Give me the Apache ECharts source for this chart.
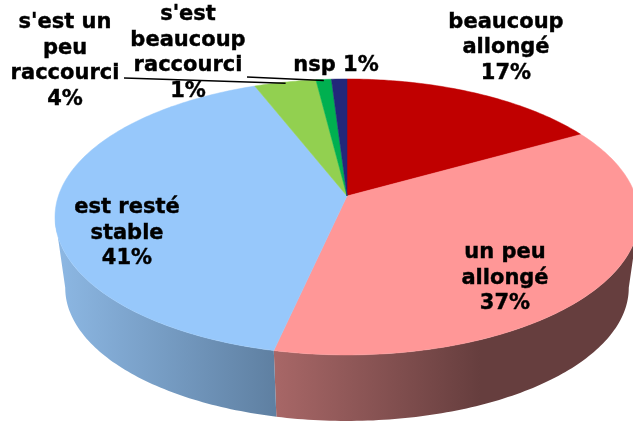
<!DOCTYPE html>
<html>
<head>
<meta charset="UTF-8">
<title></title>
<style>
html,body{margin:0;padding:0;background:#fff;}
#main{width:633px;height:422px;}
</style>
</head>
<body>
<div id="main"></div>
<script src="https://cdn.jsdelivr.net/npm/echarts@6/dist/echarts.min.js"></script>
<script>
var categories = ['beaucoup\nallongé', 'un peu\nallongé', 'est resté\nstable', "s'est un\npeu\nraccourci", "s'est\nbeaucoup\nraccourci", 'nsp'];
var values = [17, 37, 41, 4, 1, 1];
var separators = ['\n', '\n', '\n', '\n', '\n', ' '];
var topColors = ['#C00000', '#FF9797', '#97C8FB', '#92D050', '#00B050', '#22277A'];

// label centres and which slices get a leader line
var labelCenters = [[506, 48], [505, 278.5], [127, 233.5], [65, 61], [188, 53], [336, 66]];
var leaderStarts = [null, null, null, [124, 78], [247, 77], null];

// tilted disc: unit circle projected so that its centre lands on the apex
var CX = 347, APEX_Y = 196, PX = 288.6, PY = 105, PERSP = -0.152;
var DEPTH_SCALE = 0.965, BOTTOM_Y = 355, DEPTH = 66;

var total = values.reduce(function (a, b) { return a + b; }, 0);
var starts = [];
values.reduce(function (acc, v, i) { starts[i] = acc; return acc + v; }, 0);

function angleAt(cum) { return cum / total * Math.PI * 2; }

function rim(theta, r) {
	var x = Math.sin(theta) * r, y = -Math.cos(theta) * r;
	var d = 1 + PERSP * y;
	return [CX + PX * x / d, (APEX_Y + PY * y) / d];
}
function lower(p) {
	return [CX + (p[0] - CX) * DEPTH_SCALE, BOTTOM_Y + DEPTH - (BOTTOM_Y - p[1]) * DEPTH_SCALE];
}
function arcPoints(a0, a1) {
	var n = Math.max(4, Math.ceil((a1 - a0) * 60)), pts = [];
	for (var k = 0; k <= n; k++) pts.push(rim(a0 + (a1 - a0) * k / n, 1));
	return pts;
}

// the side wall only shows between the rim's right-most and left-most points
var SIDE_FROM = Math.acos(PERSP);
var SIDE_TO = Math.PI * 2 - SIDE_FROM;

var sideFills = {
	1: new echarts.graphic.LinearGradient(274, 0, 480, 0, [
		{offset: 0, color: '#A86767'}, {offset: 1, color: '#663E3E'}], true),
	2: new echarts.graphic.LinearGradient(55, 0, 274, 0, [
		{offset: 0, color: '#8DB8E4'}, {offset: 1, color: '#5F80A2'}], true)
};

function renderSide(params) {
	var i = params.dataIndex;
	var a0 = Math.max(angleAt(starts[i]), SIDE_FROM);
	var a1 = Math.min(angleAt(starts[i] + values[i]), SIDE_TO);
	if (a1 <= a0) return null;
	var pts = arcPoints(a0, a1);
	return {
		type: 'polygon',
		shape: {points: pts.concat(pts.slice().reverse().map(lower))},
		style: {fill: sideFills[i] || topColors[i]}
	};
}

function renderTop(params) {
	var i = params.dataIndex;
	var pts = arcPoints(angleAt(starts[i]), angleAt(starts[i] + values[i]));
	return {
		type: 'polygon',
		shape: {points: [[CX, APEX_Y]].concat(pts)},
		style: {fill: topColors[i], stroke: topColors[i], lineWidth: 0.5}
	};
}

function renderLabel(params, api) {
	var i = params.dataIndex;
	var kids = [];
	if (leaderStarts[i]) {
		var end = rim(angleAt(starts[i] + values[i] / 2), 0.99);
		kids.push({
			type: 'line',
			shape: {x1: leaderStarts[i][0], y1: leaderStarts[i][1], x2: end[0], y2: end[1]},
			style: {stroke: '#000', lineWidth: 1.5}
		});
	}
	kids.push({
		type: 'text',
		x: labelCenters[i][0],
		y: labelCenters[i][1],
		style: {
			text: categories[i] + separators[i] + api.value(1) + '%',
			fill: '#000',
			stroke: '#000',
			lineWidth: 0.4,
			font: 'bold 21px "DejaVu Sans"',
			lineHeight: 25.5,
			align: 'center',
			verticalAlign: 'middle'
		}
	});
	return {type: 'group', children: kids};
}

var seriesData = values.map(function (v, i) { return [i, v]; });

var myChart = echarts.init(document.getElementById('main'), null, {renderer: 'canvas'});
myChart.setOption({
	animation: false,
	backgroundColor: '#fff',
	series: [
		{type: 'custom', coordinateSystem: 'none', silent: true, z: 1, data: seriesData, renderItem: renderSide},
		{type: 'custom', coordinateSystem: 'none', silent: true, z: 2, data: seriesData, renderItem: renderTop},
		{type: 'custom', coordinateSystem: 'none', silent: true, z: 3, data: seriesData, renderItem: renderLabel}
	]
});
</script>
</body>
</html>
